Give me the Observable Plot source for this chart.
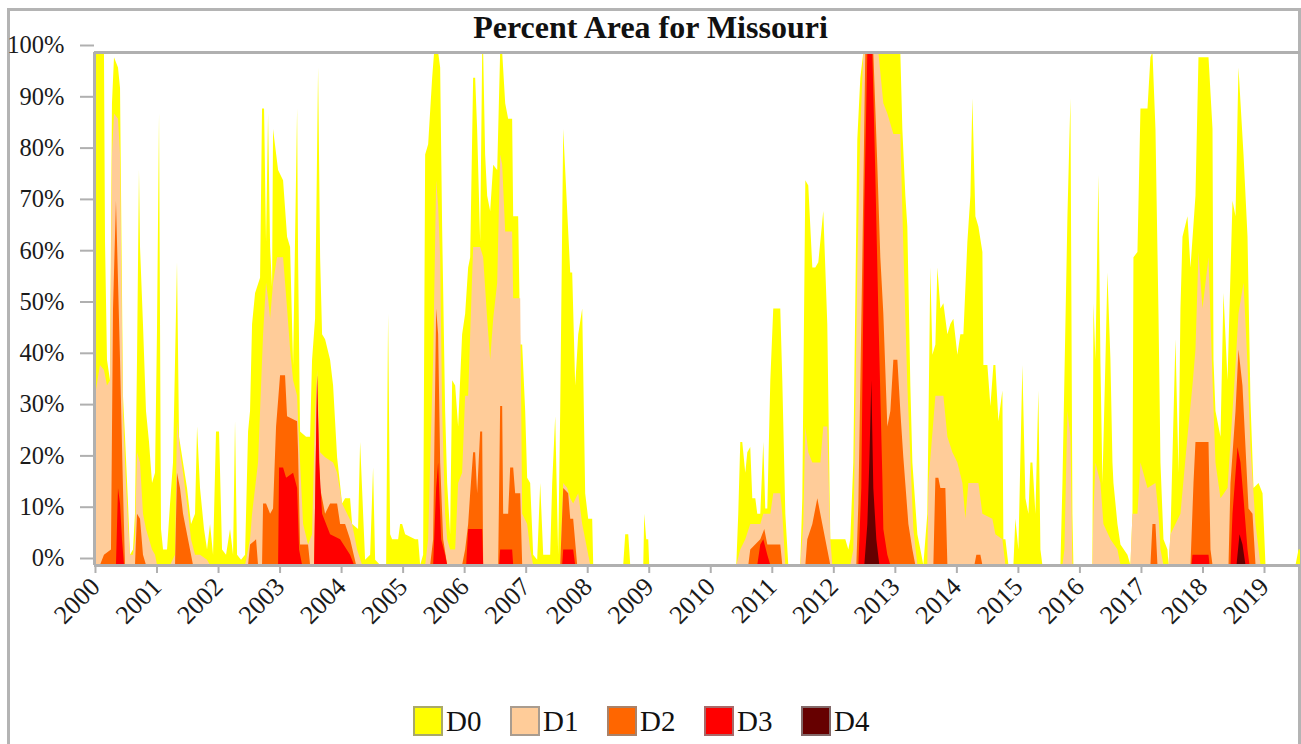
<!DOCTYPE html>
<html><head><meta charset="utf-8">
<script src="https://cdn.jsdelivr.net/npm/d3@7"></script>
<script src="https://cdn.jsdelivr.net/npm/@observablehq/plot@0.6"></script>
<style>
html,body{margin:0;padding:0;background:#fff;}
body{width:1301px;height:744px;overflow:hidden;position:relative;font-family:"Liberation Serif","Times New Roman",serif;color:#111;}
#frame{position:absolute;left:7px;top:8px;width:1294px;height:800px;border:3px solid #b4b4b4;box-sizing:border-box;}
#title{position:absolute;left:0;width:1301px;top:8px;text-align:center;font-weight:bold;font-size:32px;line-height:38px;}
#chart{position:absolute;left:0;top:0;}
#chart svg text{font-family:"Liberation Serif","Times New Roman",serif;}
#legend{position:absolute;top:704px;left:413px;display:flex;}
.item{display:flex;align-items:center;width:97px;font-size:29px;line-height:34px;}
.sw{width:26px;height:26px;border:2px solid rgba(140,140,140,0.75);margin-right:3px;}
</style></head>
<body>
<div id="frame"></div>
<div id="title">Percent Area for Missouri</div>
<div id="chart"></div>
<div id="legend"></div>
<script>
const levels = ["D0","D1","D2","D3","D4"];
const colors = ["#ffff00","#ffcc99","#ff6600","#ff0000","#660000"];
const yearTicks = [2000,2001,2002,2003,2004,2005,2006,2007,2008,2009,2010,2011,2012,2013,2014,2015,2016,2017,2018,2019];
const pctTicks = [0,10,20,30,40,50,60,70,80,90,100];
const xDomain = [1999.984, 2019.585];

// [decimal year, percent of area]
const D0 = [[2000.000,100],[2000.146,100],[2000.163,63],[2000.195,40],[2000.244,36],[2000.276,90],[2000.309,99],[2000.374,97],[2000.407,93],[2000.455,33],[2000.488,25],[2000.537,12],[2000.569,2],[2000.618,3],[2000.650,10],[2000.683,40],[2000.715,77],[2000.732,62],[2000.780,47],[2000.829,30],[2000.878,24],[2000.927,16],[2000.976,18],[2001.008,46],[2001.041,88],[2001.073,7],[2001.106,3],[2001.171,3],[2001.220,12],[2001.268,20],[2001.333,59],[2001.366,25],[2001.431,20],[2001.496,15],[2001.561,8],[2001.626,10],[2001.659,27],[2001.707,15],[2001.772,7],[2001.821,3],[2001.870,8],[2001.919,2],[2001.967,26],[2002.016,26],[2002.065,3],[2002.130,2],[2002.195,7],[2002.244,2],[2002.276,28],[2002.309,2],[2002.374,1],[2002.439,2],[2002.488,26],[2002.520,30],[2002.553,47],[2002.602,53],[2002.683,56],[2002.715,89],[2002.748,89],[2002.780,63],[2002.813,88],[2002.846,62],[2002.878,54],[2002.894,85],[2002.976,77],[2003.057,75],[2003.122,64],[2003.171,62],[2003.220,39],[2003.285,89],[2003.301,60],[2003.333,26],[2003.431,25],[2003.496,25],[2003.528,40],[2003.577,48],[2003.626,97],[2003.659,60],[2003.691,45],[2003.740,44],[2003.821,40],[2003.870,35],[2003.935,21],[2004.016,12],[2004.065,13],[2004.146,13],[2004.179,8],[2004.276,7],[2004.309,24],[2004.358,10],[2004.390,1],[2004.472,2],[2004.520,19],[2004.553,1],[2004.634,0],[2004.732,0],[2004.764,49],[2004.797,6],[2004.829,5],[2004.927,5],[2004.959,8],[2004.992,8],[2005.041,6],[2005.203,5],[2005.252,5],[2005.285,0],[2005.333,2],[2005.366,80],[2005.415,82],[2005.480,95],[2005.512,100],[2005.577,100],[2005.610,97],[2005.642,66],[2005.691,30],[2005.724,16],[2005.772,6],[2005.805,36],[2005.854,35],[2005.902,27],[2005.967,45],[2006.016,49],[2006.065,58],[2006.098,60],[2006.146,95],[2006.179,95],[2006.211,85],[2006.260,63],[2006.293,100],[2006.309,100],[2006.341,80],[2006.374,72],[2006.423,69],[2006.472,78],[2006.537,77],[2006.585,100],[2006.618,100],[2006.667,90],[2006.715,87],[2006.780,87],[2006.797,68],[2006.878,68],[2006.911,43],[2006.943,43],[2006.992,30],[2007.024,17],[2007.073,16],[2007.122,2],[2007.187,1],[2007.236,16],[2007.285,2],[2007.398,2],[2007.431,16],[2007.480,29],[2007.528,2],[2007.561,30],[2007.610,85],[2007.675,69],[2007.724,57],[2007.756,57],[2007.805,35],[2007.854,45],[2007.919,50],[2007.967,14],[2008.016,9],[2008.081,9],[2008.098,0],[2008.585,0],[2008.618,6],[2008.667,6],[2008.699,0],[2008.911,0],[2008.927,10],[2008.959,5],[2008.992,5],[2009.008,0],[2010.423,0],[2010.455,10],[2010.488,24],[2010.520,24],[2010.569,18],[2010.602,22],[2010.650,23],[2010.683,13],[2010.732,13],[2010.764,10],[2010.813,10],[2010.862,24],[2010.894,11],[2010.927,11],[2010.976,36],[2011.024,50],[2011.138,50],[2011.171,36],[2011.220,10],[2011.268,0],[2011.463,0],[2011.496,13],[2011.545,75],[2011.593,74],[2011.659,58],[2011.707,58],[2011.756,59],[2011.837,69],[2011.902,47],[2011.951,5],[2012.195,5],[2012.244,3],[2012.276,5],[2012.325,20],[2012.390,83],[2012.439,95],[2012.488,100],[2013.089,100],[2013.122,85],[2013.171,72],[2013.203,66],[2013.252,35],[2013.285,20],[2013.366,6],[2013.415,3],[2013.463,0],[2013.528,10],[2013.577,58],[2013.610,41],[2013.659,43],[2013.691,58],[2013.740,50],[2013.789,51],[2013.854,45],[2013.902,47],[2013.951,48],[2014.016,41],[2014.065,45],[2014.114,45],[2014.179,63],[2014.228,72],[2014.260,91],[2014.309,68],[2014.358,66],[2014.423,61],[2014.439,39],[2014.504,39],[2014.553,31],[2014.602,39],[2014.634,39],[2014.683,28],[2014.748,34],[2014.764,5],[2014.797,5],[2014.846,0],[2014.927,0],[2014.959,9],[2015.008,3],[2015.073,39],[2015.122,13],[2015.171,10],[2015.203,20],[2015.236,20],[2015.285,10],[2015.333,34],[2015.366,3],[2015.398,0],[2015.691,0],[2015.724,16],[2015.805,68],[2015.854,91],[2015.886,10],[2015.902,0],[2016.211,0],[2016.228,51],[2016.260,40],[2016.309,76],[2016.341,40],[2016.374,16],[2016.423,40],[2016.455,57],[2016.504,40],[2016.537,20],[2016.553,16],[2016.618,8],[2016.667,4],[2016.780,2],[2016.829,0],[2016.862,10],[2016.878,60],[2016.943,61],[2016.992,89],[2017.106,89],[2017.154,99],[2017.187,100],[2017.236,85],[2017.285,49],[2017.317,20],[2017.366,5],[2017.431,3],[2017.447,0],[2017.480,6],[2017.561,44],[2017.610,18],[2017.642,50],[2017.675,64],[2017.756,68],[2017.805,58],[2017.886,72],[2017.935,99],[2018.098,99],[2018.163,85],[2018.179,40],[2018.211,30],[2018.293,25],[2018.341,53],[2018.407,36],[2018.488,71],[2018.537,68],[2018.585,97],[2018.667,80],[2018.732,64],[2018.780,32],[2018.829,15],[2018.911,16],[2018.976,14],[2019.024,0],[2019.512,0],[2019.561,3],[2019.585,3]];

const D1 = [[2000.000,33],[2000.081,39],[2000.146,38],[2000.195,35],[2000.244,36],[2000.276,80],[2000.309,88],[2000.374,87],[2000.407,80],[2000.455,30],[2000.488,20],[2000.537,8],[2000.569,2],[2000.618,2],[2000.650,5],[2000.683,22],[2000.732,20],[2000.780,10],[2000.829,7],[2000.878,5],[2000.927,3],[2000.976,2],[2001.008,0],[2001.220,0],[2001.301,2],[2001.333,28],[2001.382,22],[2001.431,18],[2001.496,12],[2001.561,5],[2001.626,2],[2001.707,2],[2001.821,1],[2001.870,0],[2002.439,0],[2002.488,3],[2002.520,5],[2002.553,10],[2002.602,15],[2002.650,20],[2002.683,30],[2002.732,45],[2002.780,55],[2002.813,52],[2002.846,48],[2002.894,55],[2002.959,60],[2003.057,60],[2003.122,50],[2003.171,42],[2003.220,36],[2003.285,33],[2003.301,28],[2003.333,20],[2003.382,8],[2003.463,4],[2003.528,6],[2003.577,30],[2003.610,38],[2003.659,22],[2003.740,21],[2003.870,20],[2003.935,18],[2004.016,12],[2004.098,10],[2004.179,8],[2004.260,3],[2004.341,0],[2005.366,0],[2005.415,5],[2005.447,20],[2005.496,40],[2005.545,75],[2005.577,70],[2005.610,60],[2005.642,30],[2005.691,10],[2005.724,5],[2005.772,3],[2005.854,3],[2005.902,16],[2005.967,18],[2006.016,33],[2006.065,33],[2006.098,45],[2006.146,62],[2006.260,62],[2006.309,60],[2006.374,48],[2006.423,40],[2006.472,48],[2006.537,55],[2006.585,80],[2006.618,78],[2006.667,65],[2006.780,65],[2006.797,52],[2006.911,52],[2006.943,10],[2007.024,8],[2007.073,3],[2007.122,0],[2007.561,0],[2007.610,16],[2007.675,15],[2007.724,13],[2007.772,12],[2007.854,14],[2007.919,8],[2008.000,3],[2008.049,0],[2010.423,0],[2010.488,3],[2010.569,5],[2010.650,8],[2010.813,8],[2010.862,10],[2010.976,10],[2011.024,14],[2011.138,14],[2011.171,10],[2011.220,0],[2011.463,0],[2011.512,8],[2011.545,27],[2011.593,22],[2011.659,20],[2011.789,20],[2011.837,27],[2011.902,27],[2011.951,5],[2011.984,0],[2012.276,0],[2012.325,3],[2012.390,58],[2012.439,85],[2012.488,100],[2012.732,100],[2012.813,90],[2012.878,88],[2012.976,84],[2013.089,84],[2013.138,62],[2013.203,35],[2013.252,21],[2013.301,7],[2013.366,0],[2013.528,0],[2013.545,16],[2013.659,33],[2013.789,33],[2013.854,25],[2013.935,22],[2014.016,20],[2014.098,16],[2014.146,9],[2014.195,16],[2014.358,16],[2014.423,10],[2014.585,9],[2014.634,6],[2014.748,5],[2014.797,0],[2015.724,0],[2015.756,3],[2015.805,30],[2015.854,25],[2015.886,0],[2016.211,0],[2016.228,10],[2016.260,20],[2016.341,16],[2016.390,8],[2016.504,5],[2016.618,3],[2016.667,0],[2016.829,0],[2016.862,10],[2016.943,10],[2016.992,20],[2017.106,15],[2017.236,16],[2017.285,10],[2017.317,3],[2017.366,0],[2017.447,0],[2017.480,6],[2017.642,10],[2017.756,25],[2017.837,35],[2017.886,42],[2017.935,61],[2018.000,50],[2018.098,60],[2018.163,36],[2018.211,20],[2018.293,13],[2018.407,15],[2018.488,30],[2018.537,39],[2018.585,49],[2018.667,55],[2018.732,39],[2018.780,23],[2018.862,8],[2018.943,0]];

const D2 = [[2000.081,0],[2000.146,2],[2000.260,3],[2000.293,50],[2000.341,71],[2000.407,40],[2000.455,15],[2000.488,0],[2000.650,0],[2000.683,10],[2000.732,9],[2000.780,2],[2000.829,0],[2001.301,0],[2001.333,18],[2001.382,15],[2001.431,10],[2001.512,5],[2001.593,0],[2002.488,0],[2002.520,4],[2002.618,5],[2002.650,0],[2002.715,0],[2002.732,12],[2002.780,12],[2002.846,10],[2002.894,11],[2002.943,27],[2003.008,37],[2003.089,37],[2003.122,29],[2003.285,28],[2003.301,22],[2003.333,4],[2003.463,4],[2003.496,0],[2003.561,0],[2003.610,37],[2003.659,15],[2003.740,10],[2003.821,12],[2003.935,12],[2003.984,8],[2004.065,8],[2004.146,5],[2004.244,0],[2005.447,0],[2005.496,5],[2005.545,50],[2005.577,45],[2005.610,20],[2005.659,5],[2005.724,0],[2005.967,0],[2006.016,3],[2006.065,8],[2006.098,14],[2006.146,22],[2006.179,22],[2006.211,14],[2006.260,26],[2006.293,26],[2006.309,0],[2006.553,0],[2006.585,31],[2006.618,31],[2006.634,10],[2006.715,10],[2006.748,19],[2006.797,19],[2006.829,14],[2006.911,14],[2006.943,0],[2007.561,0],[2007.610,15],[2007.691,14],[2007.724,9],[2007.772,9],[2007.837,0],[2010.618,0],[2010.650,3],[2010.813,5],[2010.878,7],[2010.927,4],[2011.138,4],[2011.171,0],[2011.545,0],[2011.577,5],[2011.659,8],[2011.740,13],[2011.821,8],[2011.902,3],[2011.951,0],[2012.374,0],[2012.407,12],[2012.472,60],[2012.520,100],[2012.650,100],[2012.715,78],[2012.764,60],[2012.813,49],[2012.878,27],[2012.927,30],[2012.976,40],[2013.041,40],[2013.089,30],[2013.138,21],[2013.220,8],[2013.285,3],[2013.333,0],[2013.626,0],[2013.659,17],[2013.707,17],[2013.740,15],[2013.821,15],[2013.854,0],[2014.293,0],[2014.325,2],[2014.390,2],[2014.423,0],[2017.154,0],[2017.187,8],[2017.236,8],[2017.268,0],[2017.805,0],[2017.854,16],[2017.886,24],[2018.098,24],[2018.130,3],[2018.163,0],[2018.423,0],[2018.455,16],[2018.537,30],[2018.585,42],[2018.650,35],[2018.699,23],[2018.748,11],[2018.813,10],[2018.862,0]];

const D3 = [[2000.341,0],[2000.374,15],[2000.407,12],[2000.439,5],[2000.472,0],[2002.976,0],[2002.992,19],[2003.057,19],[2003.106,17],[2003.220,18],[2003.285,15],[2003.317,3],[2003.366,0],[2003.561,0],[2003.610,37],[2003.642,20],[2003.691,10],[2003.821,6],[2003.984,5],[2004.146,2],[2004.211,0],[2005.496,0],[2005.545,15],[2005.577,20],[2005.626,5],[2005.691,2],[2005.724,0],[2006.033,0],[2006.065,7],[2006.293,7],[2006.309,0],[2006.569,0],[2006.585,3],[2006.780,3],[2006.797,0],[2007.593,0],[2007.610,3],[2007.772,3],[2007.805,0],[2010.764,0],[2010.813,4],[2010.862,5],[2010.927,2],[2010.976,0],[2012.407,0],[2012.455,15],[2012.504,70],[2012.553,100],[2012.634,100],[2012.683,76],[2012.732,49],[2012.797,17],[2012.813,7],[2012.878,2],[2012.927,0],[2017.821,0],[2017.837,2],[2018.098,2],[2018.114,0],[2018.455,0],[2018.488,10],[2018.569,23],[2018.618,20],[2018.667,13],[2018.732,3],[2018.764,0]];

const D4 = [[2012.504,0],[2012.553,8],[2012.585,20],[2012.618,36],[2012.650,15],[2012.699,5],[2012.748,0],[2018.553,0],[2018.602,6],[2018.650,4],[2018.699,0]];

const series = [D0, D1, D2, D3, D4];
const gray = "#b0b0b0";
const serif = "Liberation Serif, Times New Roman, serif";

const plot = Plot.plot({
  width: 1301,
  height: 640,
  marginLeft: 94,
  marginRight: 1,
  marginTop: 52,
  marginBottom: 75,
  style: {fontFamily: serif, background: "transparent", color: "#111", overflow: "visible"},
  x: {domain: xDomain, axis: null},
  y: {domain: [0, 100], axis: null},
  marks: [
    ...series.map((s, i) => Plot.areaY(s, {x: d => d[0], y: d => d[1], fill: colors[i], clip: true})),
    Plot.ruleY([0], {stroke: gray, strokeWidth: 3}),
    Plot.ruleY([100], {stroke: gray, strokeWidth: 3}),
    Plot.ruleX([xDomain[0]], {stroke: gray, strokeWidth: 3}),
    Plot.axisY({ticks: pctTicks, tickFormat: d => d + "%", tickSize: 14, tickPadding: 16, fontSize: 24.5, fontFamily: serif, dy: -7, stroke: gray, strokeWidth: 2, fill: "#1a1a1a"}),
    Plot.axisX({ticks: yearTicks, tickFormat: d => String(d), tickRotate: -45, tickSize: 8, tickPadding: 9, fontSize: 26, fontFamily: serif, stroke: gray, strokeWidth: 2, fill: "#1a1a1a"})
  ]
});
document.getElementById("chart").appendChild(plot);

const leg = document.getElementById("legend");
levels.forEach((l, i) => {
  const it = document.createElement("div");
  it.className = "item";
  const sw = document.createElement("div");
  sw.className = "sw";
  sw.style.background = colors[i];
  it.appendChild(sw);
  const t = document.createElement("span");
  t.textContent = l;
  it.appendChild(t);
  leg.appendChild(it);
});
</script>
</body></html>
